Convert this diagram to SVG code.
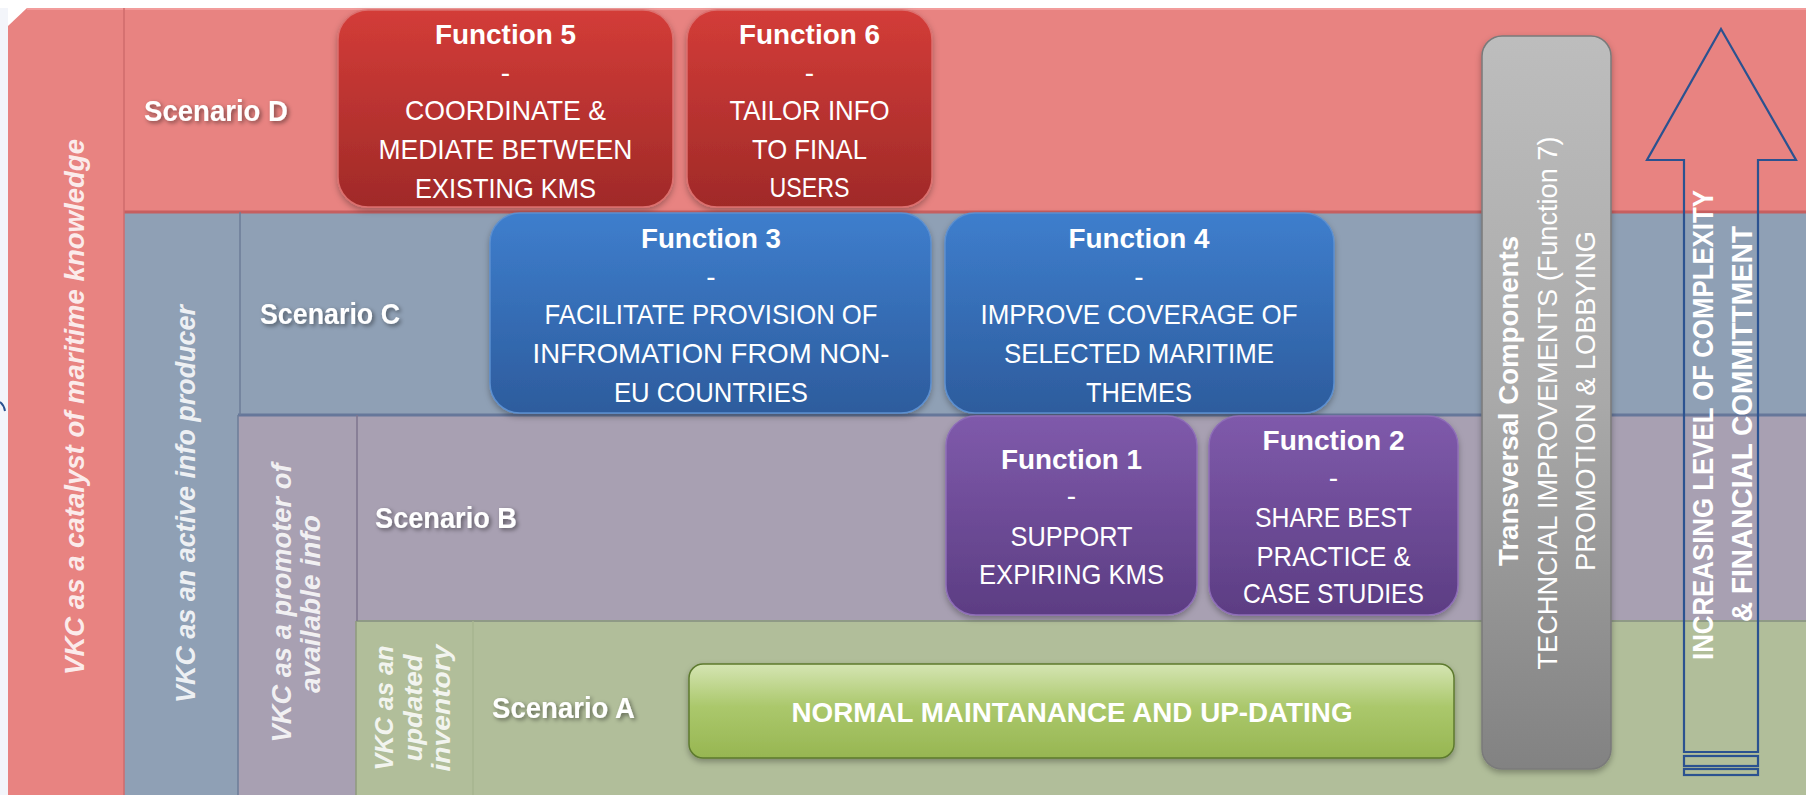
<svg xmlns="http://www.w3.org/2000/svg" width="1806" height="795" viewBox="0 0 1806 795">
<defs>
<style>
.t{font-family:"Liberation Sans",Arial,sans-serif;fill:#fff}
.title{font-weight:bold;font-size:28px;text-anchor:middle}
.body{font-size:28px;text-anchor:middle}
.scen{font-weight:bold;font-size:29px;text-anchor:middle;filter:url(#tshadow)}
.vkc{font-weight:bold;font-style:italic;font-size:28px;text-anchor:middle;fill-opacity:.86}
.vert{font-size:28px;text-anchor:middle}
.box{filter:url(#shadow);stroke-width:1.5}
.div{stroke-width:1.5;fill:none}
</style>
<linearGradient id="gRed" x1="0" y1="0" x2="0" y2="1"><stop offset="0" stop-color="#d33c38"/><stop offset="1" stop-color="#a02a28"/></linearGradient>
<linearGradient id="gBlue" x1="0" y1="0" x2="0" y2="1"><stop offset="0" stop-color="#3e7ecd"/><stop offset="1" stop-color="#2d5c9d"/></linearGradient>
<linearGradient id="gPurple" x1="0" y1="0" x2="0" y2="1"><stop offset="0" stop-color="#7f5aab"/><stop offset="1" stop-color="#5c3d83"/></linearGradient>
<linearGradient id="gGreen" x1="0" y1="0" x2="0" y2="1"><stop offset="0" stop-color="#d5e5b3"/><stop offset="0.45" stop-color="#abc86c"/><stop offset="1" stop-color="#97b652"/></linearGradient>
<linearGradient id="gGray" x1="0" y1="0" x2="0" y2="1"><stop offset="0" stop-color="#bdbdbd"/><stop offset="0.5" stop-color="#a9a9a9"/><stop offset="1" stop-color="#828282"/></linearGradient>
<filter id="shadow" x="-10%" y="-10%" width="120%" height="130%"><feDropShadow dx="0" dy="3" stdDeviation="3" flood-color="#000" flood-opacity="0.3"/></filter>
<filter id="tshadow" x="-10%" y="-30%" width="130%" height="170%"><feDropShadow dx="2" dy="2" stdDeviation="2" flood-color="#000" flood-opacity="0.45"/></filter>
</defs>

<g id="background">
<rect x="0" y="0" width="1806" height="795" fill="#ffffff"/>
<rect x="0" y="8" width="8" height="787" fill="#f3f5fa"/>
<path d="M0,402 Q4,405 5,411" stroke="#2b5290" stroke-width="2" fill="none"/>
<polygon points="8,26 27,8 1806,8 1806,795 8,795" fill="#e88381"/>
<line x1="27" y1="9" x2="1806" y2="9" stroke="#f29c9b" stroke-width="2"/>
<rect x="124" y="212" width="1682" height="583" fill="#8fa0b5"/>
<rect x="238" y="415" width="1568" height="380" fill="#a8a0b2"/>
<rect x="356" y="621" width="1450" height="174" fill="#b1be9a"/>
<line x1="124" y1="212" x2="1806" y2="212" stroke="#c65f60" stroke-width="3"/>
<line x1="238" y1="415" x2="1806" y2="415" stroke="#66779a" stroke-width="3"/>
<line x1="356" y1="621" x2="1806" y2="621" stroke="#8f9a86" stroke-width="2"/>
<line class="div" x1="124" y1="8" x2="124" y2="795" stroke="#cf6b6c"/>
<line class="div" x1="240" y1="212" x2="240" y2="415" stroke="#6d7d99"/>
<line class="div" x1="238" y1="415" x2="238" y2="795" stroke="#6d7d99" stroke-width="2.5"/>
<line class="div" x1="357" y1="415" x2="357" y2="621" stroke="#7e748e"/>
<line class="div" x1="356" y1="621" x2="356" y2="795" stroke="#8f9a7c"/>
<line class="div" x1="473" y1="621" x2="473" y2="795" stroke="#a7b48f"/>
</g>

<g id="role-labels">
<text class="t vkc" transform="translate(84,407) rotate(-90)" textLength="536" lengthAdjust="spacingAndGlyphs">VKC as a catalyst of maritime knowledge</text>
<text class="t vkc" transform="translate(195,504) rotate(-90)" textLength="398" lengthAdjust="spacingAndGlyphs">VKC as an active info producer</text>
<text class="t vkc" transform="translate(291,603) rotate(-90)" textLength="279" lengthAdjust="spacingAndGlyphs">VKC as a promoter of</text>
<text class="t vkc" transform="translate(320,604) rotate(-90)" textLength="178" lengthAdjust="spacingAndGlyphs">available info</text>
<text class="t vkc" transform="translate(393,708) rotate(-90)" style="font-size:26px" textLength="125" lengthAdjust="spacingAndGlyphs">VKC as an</text>
<text class="t vkc" transform="translate(422,708) rotate(-90)" style="font-size:26px" textLength="107" lengthAdjust="spacingAndGlyphs">updated</text>
<text class="t vkc" transform="translate(450,708) rotate(-90)" style="font-size:26px" textLength="127" lengthAdjust="spacingAndGlyphs">inventory</text>
</g>

<g id="scenario-labels">
<text class="t scen" x="216" y="121" textLength="144" lengthAdjust="spacingAndGlyphs">Scenario D</text>
<text class="t scen" x="330" y="324" textLength="140" lengthAdjust="spacingAndGlyphs">Scenario C</text>
<text class="t scen" x="446" y="528" textLength="142" lengthAdjust="spacingAndGlyphs">Scenario B</text>
<text class="t scen" x="563.5" y="718" textLength="143" lengthAdjust="spacingAndGlyphs">Scenario A</text>
</g>

<g id="function-5">
<rect class="box" x="338" y="10" width="335" height="197" rx="30" fill="url(#gRed)" stroke="#dc6f6e"/>
<text class="t title" x="505.5" y="44" textLength="141" lengthAdjust="spacingAndGlyphs">Function 5</text>
<text class="t body" x="505.5" y="82">-</text>
<text class="t body" x="505.5" y="120" textLength="201" lengthAdjust="spacingAndGlyphs">COORDINATE &amp;</text>
<text class="t body" x="505.5" y="159" textLength="254" lengthAdjust="spacingAndGlyphs">MEDIATE BETWEEN</text>
<text class="t body" x="505.5" y="198" textLength="181" lengthAdjust="spacingAndGlyphs">EXISTING KMS</text>
</g>

<g id="function-6">
<rect class="box" x="687" y="10" width="245" height="197" rx="30" fill="url(#gRed)" stroke="#dc6f6e"/>
<text class="t title" x="809.5" y="44" textLength="141" lengthAdjust="spacingAndGlyphs">Function 6</text>
<text class="t body" x="809.5" y="82">-</text>
<text class="t body" x="809.5" y="120" textLength="160" lengthAdjust="spacingAndGlyphs">TAILOR INFO</text>
<text class="t body" x="809.5" y="159" textLength="115" lengthAdjust="spacingAndGlyphs">TO FINAL</text>
<text class="t body" x="809.5" y="197" textLength="80" lengthAdjust="spacingAndGlyphs">USERS</text>
</g>

<g id="function-3">
<rect class="box" x="490" y="213" width="441" height="200" rx="30" fill="url(#gBlue)" stroke="#5b8fd0"/>
<text class="t title" x="711" y="248" textLength="140" lengthAdjust="spacingAndGlyphs">Function 3</text>
<text class="t body" x="711" y="286">-</text>
<text class="t body" x="711" y="324" textLength="333" lengthAdjust="spacingAndGlyphs">FACILITATE PROVISION OF</text>
<text class="t body" x="711" y="363" textLength="357" lengthAdjust="spacingAndGlyphs">INFROMATION FROM NON-</text>
<text class="t body" x="711" y="402" textLength="194" lengthAdjust="spacingAndGlyphs">EU COUNTRIES</text>
</g>

<g id="function-4">
<rect class="box" x="945" y="213" width="389" height="200" rx="30" fill="url(#gBlue)" stroke="#5b8fd0"/>
<text class="t title" x="1139" y="248" textLength="141" lengthAdjust="spacingAndGlyphs">Function 4</text>
<text class="t body" x="1139" y="286">-</text>
<text class="t body" x="1139" y="324" textLength="317" lengthAdjust="spacingAndGlyphs">IMPROVE COVERAGE OF</text>
<text class="t body" x="1139" y="363" textLength="270" lengthAdjust="spacingAndGlyphs">SELECTED MARITIME</text>
<text class="t body" x="1139" y="402" textLength="106" lengthAdjust="spacingAndGlyphs">THEMES</text>
</g>

<g id="function-1">
<rect class="box" x="946" y="416" width="251" height="199" rx="30" fill="url(#gPurple)" stroke="#8e6db8"/>
<text class="t title" x="1071.5" y="469" textLength="141" lengthAdjust="spacingAndGlyphs">Function 1</text>
<text class="t body" x="1071.5" y="505">-</text>
<text class="t body" x="1071.5" y="546" textLength="122" lengthAdjust="spacingAndGlyphs">SUPPORT</text>
<text class="t body" x="1071.5" y="584" textLength="185" lengthAdjust="spacingAndGlyphs">EXPIRING KMS</text>
</g>

<g id="function-2">
<rect class="box" x="1209" y="416" width="249" height="199" rx="30" fill="url(#gPurple)" stroke="#8e6db8"/>
<text class="t title" x="1333.5" y="450" textLength="142" lengthAdjust="spacingAndGlyphs">Function 2</text>
<text class="t body" x="1333.5" y="487">-</text>
<text class="t body" x="1333.5" y="527" textLength="157" lengthAdjust="spacingAndGlyphs">SHARE BEST</text>
<text class="t body" x="1333.5" y="566" textLength="154" lengthAdjust="spacingAndGlyphs">PRACTICE &amp;</text>
<text class="t body" x="1333.5" y="603" textLength="181" lengthAdjust="spacingAndGlyphs">CASE STUDIES</text>
</g>

<g id="normal-maintenance">
<rect class="box" x="689" y="664" width="765" height="94" rx="14" fill="url(#gGreen)" stroke="#5d7a2e" stroke-width="2"/>
<text class="t title" x="1072" y="722" textLength="561" lengthAdjust="spacingAndGlyphs">NORMAL MAINTANANCE AND UP-DATING</text>
</g>

<g id="transversal-components">
<rect class="box" x="1482" y="36" width="129" height="733" rx="20" fill="url(#gGray)" stroke="#7a7a7a"/>
<text class="t vert" transform="translate(1518,401) rotate(-90)" style="font-weight:bold;font-size:28px" textLength="330" lengthAdjust="spacingAndGlyphs">Transversal Components</text>
<text class="t vert" transform="translate(1557,403) rotate(-90)" textLength="533" lengthAdjust="spacingAndGlyphs">TECHNCIAL IMPROVEMENTS (Function 7)</text>
<text class="t vert" transform="translate(1595,401) rotate(-90)" textLength="340" lengthAdjust="spacingAndGlyphs">PROMOTION &amp; LOBBYING</text>
</g>

<g id="complexity-arrow">
<path d="M1721,29 L1796,160 L1758,160 L1758,752 L1684,752 L1684,160 L1647,160 Z" fill="none" stroke="#2b5290" stroke-width="2.2" stroke-linejoin="miter"/>
<rect x="1684" y="756" width="74" height="10" fill="none" stroke="#2b5290" stroke-width="2.2"/>
<rect x="1684" y="769" width="74" height="6" fill="none" stroke="#2b5290" stroke-width="2.2"/>
<text class="t vert" transform="translate(1713,425) rotate(-90)" style="font-weight:bold;font-size:29px" textLength="470" lengthAdjust="spacingAndGlyphs">INCREASING LEVEL OF COMPLEXITY</text>
<text class="t vert" transform="translate(1752,424) rotate(-90)" style="font-weight:bold;font-size:29px" textLength="396" lengthAdjust="spacingAndGlyphs">&amp; FINANCIAL COMMITTMENT</text>
</g>

<g id="connectors"></g>
</svg>
